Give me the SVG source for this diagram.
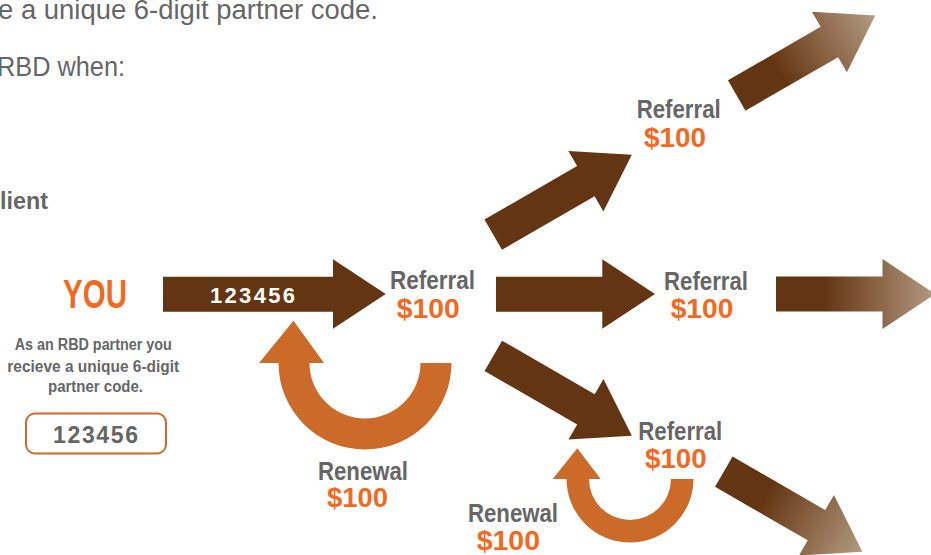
<svg xmlns="http://www.w3.org/2000/svg" width="931" height="555" viewBox="0 0 931 555">
<style>
.g{font-family:"Liberation Sans",Arial,sans-serif;fill:#666666}
.b{font-family:"Liberation Sans",Arial,sans-serif;font-weight:bold}
.gr{fill:#666666}
.or{fill:#f26a22}
.wt{fill:#ffffff}
.dark{fill:#643512}
.ring{fill:#cc6a29}
</style>
<defs>
<linearGradient id="fade" gradientUnits="userSpaceOnUse" x1="48" y1="0" x2="160" y2="0">
<stop offset="0" stop-color="#643512"/>
<stop offset="1" stop-color="#b39a80"/>
</linearGradient>
</defs>
<rect width="931" height="555" fill="#ffffff"/>
<g id="intro">
<text class="g" x="-2" y="19" font-size="27" textLength="380" lengthAdjust="spacingAndGlyphs">e a unique 6-digit partner code.</text>
<text class="g" x="-3" y="76" font-size="27" textLength="128" lengthAdjust="spacingAndGlyphs">RBD when:</text>
<text class="b gr" x="0" y="209" font-size="24" textLength="48" lengthAdjust="spacingAndGlyphs">lient</text>
</g>
<g id="connectors">
<path id="arrow-you" class="dark" d="M163,276.7 H333 V259.3 L385.7,294 L333,328.7 V311.7 H163 Z"/>
<path id="arrow-mid" class="dark" d="M496,276.7 H602.3 V259.3 L655,294 L602.3,328.7 V311.7 H496 Z"/>
<path id="arrow-right" fill="url(#fade)" transform="translate(776,294)" d="M0,-17.5 H106.5 V-35 L159,0 L106.5,35 V17.5 H0 Z"/>
<path id="arrow-up1" class="dark" transform="translate(493.2,234.7) rotate(-30)" d="M0,-17.5 H107 V-35 L160,0 L107,35 V17.5 H0 Z"/>
<path id="arrow-up2" fill="url(#fade)" transform="translate(736.7,95.5) rotate(-30)" d="M0,-17.5 H107 V-35 L160,0 L107,35 V17.5 H0 Z"/>
<path id="arrow-down1" class="dark" transform="translate(493.3,355.8) rotate(30)" d="M0,-17.5 H107 V-35 L160,0 L107,35 V17.5 H0 Z"/>
<path id="arrow-down2" fill="url(#fade)" transform="translate(723.8,471.7) rotate(30)" d="M0,-17.5 H107 V-35 L160,0 L107,35 V17.5 H0 Z"/>
<path id="renew-loop1" class="ring" d="M451.5,363 A86.5,86.5 0 0 1 278.5,363 L259,363 L293.5,320.7 L324,363 L309.5,363 A55.5,55.5 0 0 0 420.5,363 Z"/>
<path id="renew-loop2" class="ring" d="M693.5,479 A63.5,63.5 0 0 1 566.5,479 L552.7,479 L577.3,448.3 L600.7,479 L589,479 A41,41 0 0 0 671,479 Z"/>
<text class="b wt" x="210" y="302.7" font-size="22" textLength="85">123456</text>
</g>
<g id="you">
<text class="b or" x="63" y="308" font-size="40" textLength="64" lengthAdjust="spacingAndGlyphs">YOU</text>
<text class="b gr" font-size="16" text-anchor="middle">
<tspan x="95.5" y="350" textLength="157" lengthAdjust="spacingAndGlyphs">As an RBD partner you</tspan>
<tspan x="95.5" y="371.5" textLength="172" lengthAdjust="spacingAndGlyphs">recieve a unique 6-digit</tspan>
<tspan x="95.5" y="391.5" textLength="95" lengthAdjust="spacingAndGlyphs">partner code.</tspan>
</text>
<rect x="26" y="413.5" width="140" height="40" rx="9" fill="none" stroke="#cd6a2a" stroke-width="2"/>
<text class="b gr" x="53" y="442.7" font-size="23" textLength="85">123456</text>
</g>
<g id="referral-1">
<text class="b gr" x="390" y="289.3" font-size="26" textLength="85" lengthAdjust="spacingAndGlyphs">Referral</text>
<text class="b or" x="396.7" y="317.7" font-size="27" textLength="63" lengthAdjust="spacingAndGlyphs">$100</text>
</g>
<g id="renewal-1">
<text class="b gr" x="318" y="480" font-size="26" textLength="90" lengthAdjust="spacingAndGlyphs">Renewal</text>
<text class="b or" x="327" y="507" font-size="27" textLength="61" lengthAdjust="spacingAndGlyphs">$100</text>
</g>
<g id="referral-top">
<text class="b gr" x="636.7" y="118.3" font-size="26" textLength="84" lengthAdjust="spacingAndGlyphs">Referral</text>
<text class="b or" x="644" y="147.3" font-size="27" textLength="62" lengthAdjust="spacingAndGlyphs">$100</text>
</g>
<g id="referral-mid">
<text class="b gr" x="664" y="290" font-size="26" textLength="84" lengthAdjust="spacingAndGlyphs">Referral</text>
<text class="b or" x="670.7" y="318.3" font-size="27" textLength="62.6" lengthAdjust="spacingAndGlyphs">$100</text>
</g>
<g id="referral-low">
<text class="b gr" x="638.3" y="440" font-size="26" textLength="84" lengthAdjust="spacingAndGlyphs">Referral</text>
<text class="b or" x="645" y="468.3" font-size="27" textLength="61.7" lengthAdjust="spacingAndGlyphs">$100</text>
</g>
<g id="renewal-2">
<text class="b gr" x="468" y="522.3" font-size="26" textLength="90" lengthAdjust="spacingAndGlyphs">Renewal</text>
<text class="b or" x="476.7" y="550" font-size="27" textLength="63.3" lengthAdjust="spacingAndGlyphs">$100</text>
</g>
</svg>
